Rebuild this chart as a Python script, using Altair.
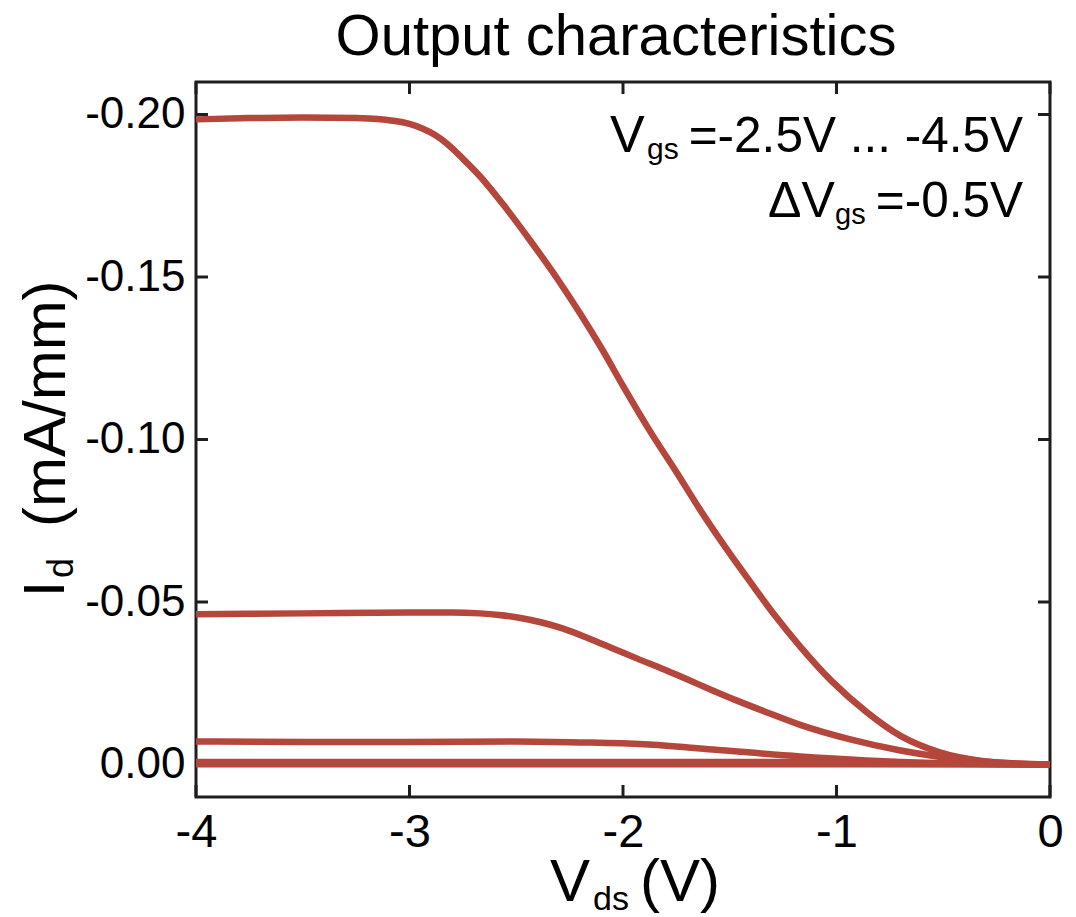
import altair as alt
import pandas as pd

# ---- data ----
vgs_labels = ["-4.5 V", "-4.0 V", "-3.5 V", "-3.0 V", "-2.5 V"]

vds_45 = [-4.0, -3.75, -3.5, -3.25, -3.15, -3.08, -3.0, -2.94, -2.88, -2.82, -2.75, -2.67,
          -2.56, -2.44, -2.31, -2.2, -2.1, -2.0, -1.87, -1.75, -1.64, -1.52, -1.4, -1.29,
          -1.17, -1.02, -0.86, -0.7, -0.52, -0.31, -0.15, 0.0]
id_45 = [-0.1985, -0.1989, -0.1991, -0.1989, -0.1986, -0.1981, -0.1971, -0.1957, -0.1937,
         -0.1908, -0.1864, -0.1810, -0.1722, -0.1617, -0.1497, -0.1387, -0.1280, -0.1165,
         -0.1022, -0.0900, -0.0785, -0.0668, -0.0558, -0.0460, -0.0363, -0.0255, -0.0162,
         -0.0088, -0.0038, -0.0010, -0.0002, 0.0]

vds_40 = [-4.0, -3.5, -3.0, -2.8, -2.67, -2.58, -2.48, -2.38, -2.28, -2.16, -2.05, -1.93,
          -1.81, -1.7, -1.58, -1.46, -1.34, -1.17, -0.94, -0.7, -0.52, -0.31, -0.15, 0.0]
id_40 = [-0.0462, -0.0465, -0.0468, -0.0468, -0.0465, -0.0460, -0.0451, -0.0437, -0.0418,
         -0.0388, -0.0358, -0.0325, -0.0293, -0.0262, -0.0228, -0.0195, -0.0164, -0.0122,
         -0.0078, -0.0043, -0.0024, -0.0009, -0.0003, 0.0]

vds_35 = [-4.0, -3.5, -3.0, -2.5, -2.2, -1.9, -1.58, -1.17, -0.7, -0.35, 0.0]
id_35 = [-0.0071, -0.0069, -0.0069, -0.0071, -0.0068, -0.0062, -0.0046, -0.0025, -0.0008,
         -0.0002, 0.0]

vds_30 = [-4.0, -3.0, -2.0, -1.0, -0.5, 0.0]
id_30 = [-0.0008, -0.0008, -0.0008, -0.0007, -0.0003, 0.0]

vds_25 = [-4.0, -2.0, 0.0]
id_25 = [-0.0001, -0.0001, 0.0]

x_ticks = [-4, -3, -2, -1, 0]
y_ticks = [-0.20, -0.15, -0.10, -0.05, 0.0]

# ---- build tables ----
rows = []
for lab, xs, ys in zip(vgs_labels, [vds_45, vds_40, vds_35, vds_30, vds_25],
                       [id_45, id_40, id_35, id_30, id_25]):
    for i, (a, b) in enumerate(zip(xs, ys)):
        rows.append({"Vgs": lab, "Vds": a, "Id": b, "order": i})
df = pd.DataFrame(rows)
xt = pd.DataFrame({"v": x_ticks})
yt = pd.DataFrame({"v": y_ticks})

W, H = 854, 715
FONT = "Liberation Sans"
FRAME = "#1e1e1e"
RED = "#b4463b"
TICK = 12

xscale = alt.Scale(domain=[-4, 0], nice=False, zero=False)
yscale = alt.Scale(domain=[-0.21, 0.01], nice=False, zero=False, reverse=True)

lines = alt.Chart(df).mark_line(
    color=RED, strokeWidth=6.5, interpolate="monotone", strokeCap="butt"
).encode(
    x=alt.X("Vds:Q", scale=xscale,
            axis=alt.Axis(values=x_ticks, format="d", title=None, grid=False, domain=False,
                          ticks=False, tickSize=0, labelFlush=False, labelFontSize=47,
                          labelFont=FONT, labelColor="black", labelPadding=12,
                          labelExpr="replace(datum.label, '\u2212', '-')")),
    y=alt.Y("Id:Q", scale=yscale,
            axis=alt.Axis(values=y_ticks, format=".2f", title=None, grid=False, domain=False,
                          ticks=False, tickSize=0, labelFontSize=44, labelFont=FONT,
                          labelColor="black", labelPadding=11,
                          labelExpr="replace(datum.label, '\u2212', '-')")),
    detail="Vgs:N",
    order="order:Q",
)

tick_b = alt.Chart(xt).mark_rule(color=FRAME, strokeWidth=3).encode(
    x=alt.X("v:Q", scale=xscale), y=alt.value(H), y2=alt.value(H - TICK))
tick_t = alt.Chart(xt).mark_rule(color=FRAME, strokeWidth=3).encode(
    x=alt.X("v:Q", scale=xscale), y=alt.value(0), y2=alt.value(TICK))
tick_l = alt.Chart(yt).mark_rule(color=FRAME, strokeWidth=3).encode(
    y=alt.Y("v:Q", scale=yscale), x=alt.value(0), x2=alt.value(TICK))
tick_r = alt.Chart(yt).mark_rule(color=FRAME, strokeWidth=3).encode(
    y=alt.Y("v:Q", scale=yscale), x=alt.value(W), x2=alt.value(W - TICK))


def label(text, x, y, size, align="left", angle=0):
    return alt.Chart(pd.DataFrame({"t": [text]})).mark_text(
        font=FONT, fontSize=size, align=align, baseline="alphabetic", angle=angle,
        color="black"
    ).encode(x=alt.value(x), y=alt.value(y), text="t:N")


texts = [
    label("Output characteristics", 420, -27, 58, align="center"),
    # annotation, line 1
    label("V", 414, 70, 52),
    label("gs", 451, 77, 30),
    label("=-2.5V ... -4.5V", 827, 70, 49.5, align="right"),
    # annotation, line 2
    label("\u0394V", 572, 135, 50),
    label("gs", 639, 142, 29),
    label("=-0.5V", 827, 135, 49.5, align="right"),
    # x title
    label("V", 354, 819, 60),
    label("ds", 397, 828, 34),
    label("(V)", 444, 819, 60),
    # y title (rotated)
    label("I", -132, 515, 58, angle=270),
    label("d", -123, 496, 36, angle=270),
    label("(mA/mm)", -131, 445, 60, angle=270),
]

chart = alt.layer(tick_b, tick_t, tick_l, tick_r, lines, *texts).properties(
    width=W, height=H,
    background="white",
    autosize=alt.AutoSizeParams(type="none"),
    padding={"left": 196, "top": 82, "right": 26, "bottom": 120},
).configure_view(stroke=FRAME, strokeWidth=3)

chart.save("out.html", embed_options={"renderer": "svg", "actions": False})
